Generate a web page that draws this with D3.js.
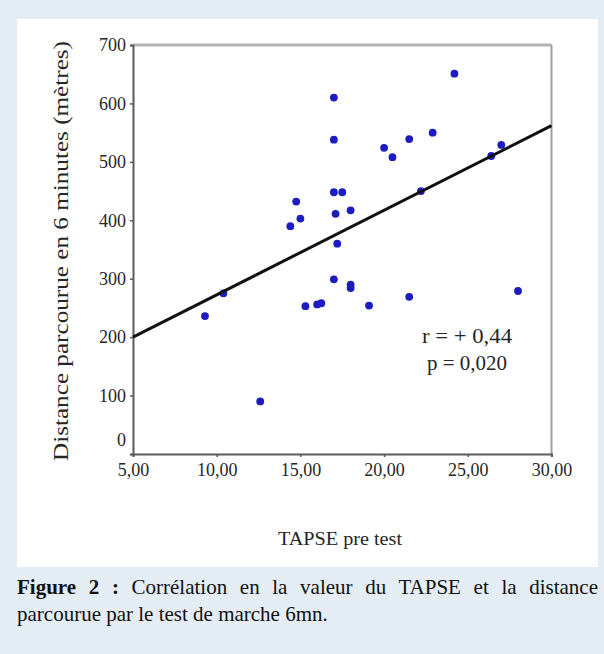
<!DOCTYPE html>
<html>
<head>
<meta charset="utf-8">
<script src="https://cdn.jsdelivr.net/npm/d3@7"></script>
<style>
  body { margin: 0; background: #e4ecf4; }
  svg { display: block; }
</style>
</head>
<body>
<svg id="chart" width="604" height="654"></svg>
<script>
// TAPSE (mm) vs distance walked in 6 minutes (m)
var tapse = [9.3, 10.4, 12.6, 14.4, 14.75, 15.0, 15.3, 16.0, 16.25, 17.0, 17.0, 17.0, 17.5, 17.1, 18.0,
             17.2, 17.0, 18.0, 18.0, 19.1, 20.0, 20.5, 21.5, 21.5, 22.2, 22.9, 24.2, 26.4, 27.0, 28.0];
var distance = [236, 275, 90, 390, 432, 403, 253, 256, 258, 610, 538, 448, 448, 411, 417,
                360, 299, 290, 284, 254, 524, 508, 539, 269, 450, 550, 651, 510, 529, 279];

// fitted line, two ends
var fitX = [5, 30];
var fitY = [200, 562];

var xTicks = [5, 10, 15, 20, 25, 30];
var yTicks = [0, 100, 200, 300, 400, 500, 600, 700];

var statsLines = ['r = + 0,44', 'p = 0,020'];

var yTitle = 'Distance parcourue en 6 minutes (mètres)';
var xTitle = 'TAPSE pre test';
var captionBold = 'Figure 2 :';
var captionLine1 = ' Corrélation en la valeur du TAPSE et la distance';
var captionLine2 = 'parcourue par le test de marche 6mn.';

const COLORS = {
    page: '#e4ecf4',
    panel: '#ffffff',
    axis: '#5a5a5a',
    frameTop: '#b4b4b4',
    frameRight: '#a0a0a0',
    text: '#262626',
    point: '#1c1cc0',
    fit: '#111111',
    caption: '#111111'
}

const SERIF = '"Liberation Serif", "Times New Roman", serif';

var svg = d3.select('#chart');

svg.append('rect')
    .attr('width', 604).attr('height', 654)
    .attr('fill', COLORS.page);

svg.append('rect')
    .attr('x', 17).attr('y', 19)
    .attr('width', 581).attr('height', 548)
    .attr('fill', COLORS.panel);

var x = d3.scaleLinear().domain([5, 30]).range([133, 551.5]);
var y = d3.scaleLinear().domain([0, 700]).range([454, 45]);

// frame: top and right are lighter than the axes
svg.append('line')
    .attr('x1', x(5)).attr('x2', x(30))
    .attr('y1', y(700)).attr('y2', y(700))
    .attr('stroke', COLORS.frameTop).attr('stroke-width', 3);
svg.append('line')
    .attr('x1', x(30)).attr('x2', x(30))
    .attr('y1', y(700)).attr('y2', y(0))
    .attr('stroke', COLORS.frameRight).attr('stroke-width', 2);

var yAxis = svg.append('g')
    .attr('transform', 'translate(' + x(5) + ',0)')
    .call(d3.axisLeft(y).tickValues(yTicks).tickSize(3).tickPadding(4).tickFormat(d3.format('d')));

var xAxis = svg.append('g')
    .attr('transform', 'translate(0,' + y(0) + ')')
    .call(d3.axisBottom(x).tickValues(xTicks).tickSize(3).tickPadding(6)
        .tickFormat(d => d.toFixed(2).replace('.', ',')));

[yAxis, xAxis].forEach(function (g) {
    g.select('.domain').attr('stroke', COLORS.axis).attr('stroke-width', 2);
    g.selectAll('.tick line').attr('stroke', COLORS.axis).attr('stroke-width', 1.5);
    g.selectAll('.tick text')
        .attr('fill', COLORS.text)
        .attr('font-family', SERIF)
        .attr('font-size', 18);
});

// the zero label sits a little above the axis in the original
yAxis.selectAll('.tick text').filter(d => d === 0).attr('dy', '-0.5em');

svg.append('g')
    .selectAll('circle')
    .data(tapse.map((t, i) => ({ t: t, d: distance[i] })))
    .enter()
    .append('circle')
    .attr('cx', p => x(p.t))
    .attr('cy', p => y(p.d))
    .attr('r', 3.9)
    .attr('fill', COLORS.point);

svg.append('path')
    .datum(fitX.map((v, i) => [v, fitY[i]]))
    .attr('d', d3.line().x(p => x(p[0])).y(p => y(p[1])))
    .attr('fill', 'none')
    .attr('stroke', COLORS.fit)
    .attr('stroke-width', 3);

svg.append('g')
    .selectAll('text')
    .data(statsLines)
    .enter()
    .append('text')
    .attr('x', 467)
    .attr('y', (s, i) => 343 + i * 27)
    .attr('text-anchor', 'middle')
    .attr('font-family', SERIF)
    .attr('font-size', 21)
    .attr('fill', COLORS.text)
    .attr('textLength', (s, i) => i === 0 ? 90 : 80)
    .attr('lengthAdjust', 'spacingAndGlyphs')
    .text(s => s);

svg.append('text')
    .attr('transform', 'translate(68,251) rotate(-90)')
    .attr('text-anchor', 'middle')
    .attr('font-family', SERIF)
    .attr('font-size', 20)
    .attr('fill', COLORS.text)
    .attr('textLength', 420)
    .attr('lengthAdjust', 'spacingAndGlyphs')
    .text(yTitle);

svg.append('text')
    .attr('x', 340).attr('y', 545)
    .attr('text-anchor', 'middle')
    .attr('font-family', SERIF)
    .attr('font-size', 19)
    .attr('fill', COLORS.text)
    .attr('textLength', 124)
    .attr('lengthAdjust', 'spacingAndGlyphs')
    .text(xTitle);

// caption, first line justified across the panel width
var cap1 = svg.append('text')
    .attr('x', 17).attr('y', 594)
    .attr('font-family', SERIF)
    .attr('font-size', 21)
    .attr('fill', COLORS.caption);
cap1.append('tspan').attr('font-weight', 'bold').text(captionBold);
cap1.append('tspan').text(captionLine1);

var natural = cap1.node().getComputedTextLength();
var gaps = (captionBold + captionLine1).split(' ').length - 1;
cap1.attr('word-spacing', Math.max(0, (581 - natural) / gaps));

svg.append('text')
    .attr('x', 17).attr('y', 621)
    .attr('font-family', SERIF)
    .attr('font-size', 21)
    .attr('fill', COLORS.caption)
    .text(captionLine2);
</script>
</body>
</html>
